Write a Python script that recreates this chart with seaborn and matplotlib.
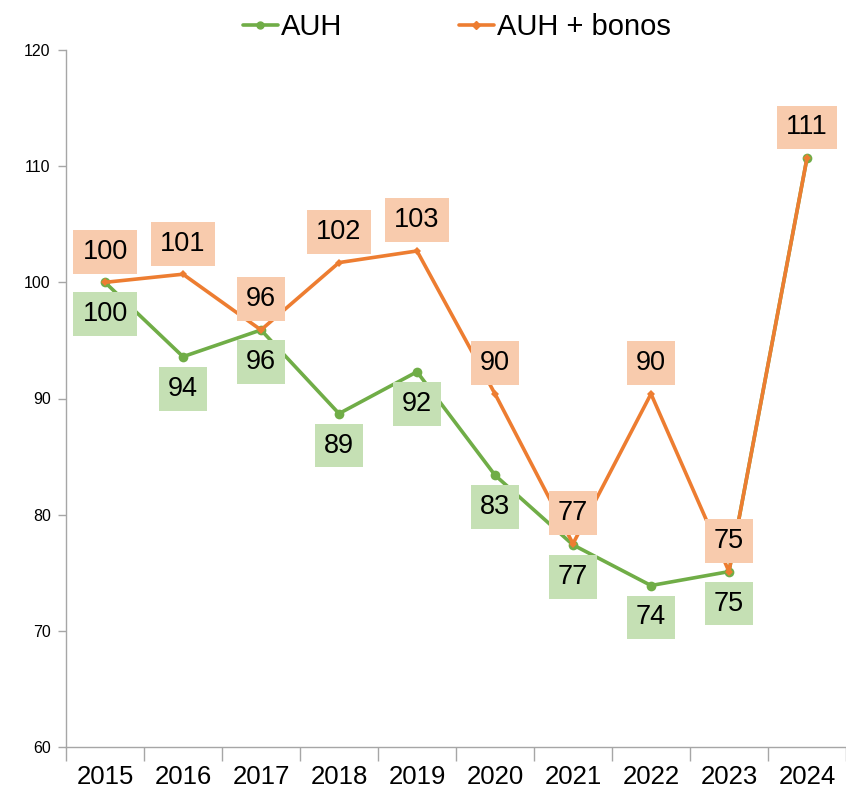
import numpy as np
import pandas as pd
import matplotlib
matplotlib.use("Agg")
import matplotlib.pyplot as plt
from matplotlib.lines import Line2D
import seaborn as sns

# Datos
anios = ["2015", "2016", "2017", "2018", "2019", "2020", "2021", "2022", "2023", "2024"]
auh = [100.0, 93.6, 95.9, 88.7, 92.3, 83.4, 77.4, 73.9, 75.1, 110.7]
auh_bonos = [100.0, 100.7, 95.9, 101.7, 102.7, 90.4, 77.5, 90.4, 75.1, 110.7]
etiquetas_auh = ["100", "94", "96", "89", "92", "83", "77", "74", "75", ""]
etiquetas_bonos = ["100", "101", "96", "102", "103", "90", "77", "90", "75", "111"]

verde = "#70AD47"
naranja = "#ED7D31"
caja_verde = "#C5E0B4"
caja_naranja = "#F8CBAD"
gris = "#A6A6A6"

sns.set_style("white")
plt.rcParams['font.family'] = ['Liberation Sans', 'DejaVu Sans']
plt.rcParams['text.color'] = 'black'
plt.rcParams['xtick.color'] = 'black'
plt.rcParams['ytick.color'] = 'black'

df = pd.DataFrame({
    "x": list(range(len(anios))) * 2,
    "valor": auh + auh_bonos,
    "serie": ["AUH"] * len(anios) + ["AUH + bonos"] * len(anios),
})

fig = plt.figure(figsize=(8.46, 7.99), dpi=100)
ax = fig.add_axes([66 / 846, 1 - 747 / 799, 780 / 846, 697 / 799])

sns.lineplot(data=df, x="x", y="valor", hue="serie", style="serie",
             hue_order=["AUH", "AUH + bonos"],
             palette={"AUH": verde, "AUH + bonos": naranja},
             markers={"AUH": "o", "AUH + bonos": "D"},
             dashes=False, linewidth=2.6, markersize=7, markeredgewidth=0,
             ax=ax, legend=False)

# rombo mas chico para la serie con bonos
for ln in ax.lines:
    if ln.get_marker() == "D":
        ln.set_markersize(4.5)

# etiquetas
for i in range(len(anios)):
    if etiquetas_bonos[i]:
        ax.annotate(etiquetas_bonos[i], (i, auh_bonos[i]), xytext=(0, 22),
                    textcoords="offset points", ha="center", va="center",
                    fontsize=19.5, color="black",
                    bbox=dict(facecolor=caja_naranja, edgecolor="none", pad=6.5))
    if etiquetas_auh[i]:
        ax.annotate(etiquetas_auh[i], (i, auh[i]), xytext=(0, -23),
                    textcoords="offset points", ha="center", va="center",
                    fontsize=19.5, color="black",
                    bbox=dict(facecolor=caja_verde, edgecolor="none", pad=6.5))

ax.set_xlim(-0.5, len(anios) - 0.5)
ax.set_ylim(60, 120)
ax.set_yticks(np.arange(60, 121, 10))
ax.set_xticks(range(len(anios)))
ax.set_xticklabels(anios, fontsize=18.5)
ax.set_xticks(np.arange(-0.5, len(anios), 1), minor=True)
ax.tick_params(axis="x", which="major", bottom=False, length=0, pad=13)
ax.tick_params(axis="x", which="minor", bottom=True, length=10, width=1,
               color=gris, direction="out")
ax.tick_params(axis="y", left=True, labelsize=11.5, length=6, width=1,
               color=gris, direction="out", pad=5)
ax.set_xlabel("")
ax.set_ylabel("")
for s in ["top", "right"]:
    ax.spines[s].set_visible(False)
for s in ["left", "bottom"]:
    ax.spines[s].set_color(gris)
    ax.spines[s].set_linewidth(1)

# leyenda
h = [Line2D([], [], color=verde, lw=2.6, marker="o", markersize=5),
     Line2D([], [], color=naranja, lw=2.6, marker="D", markersize=4)]
fig.legend(h, ["AUH", "AUH + bonos"], loc="center", bbox_to_anchor=(0.54, 1 - 27 / 799),
           ncol=2, frameon=False, fontsize=21, handlelength=1.2, handletextpad=0.1,
           columnspacing=4)

fig.savefig("out.png", dpi=100)
